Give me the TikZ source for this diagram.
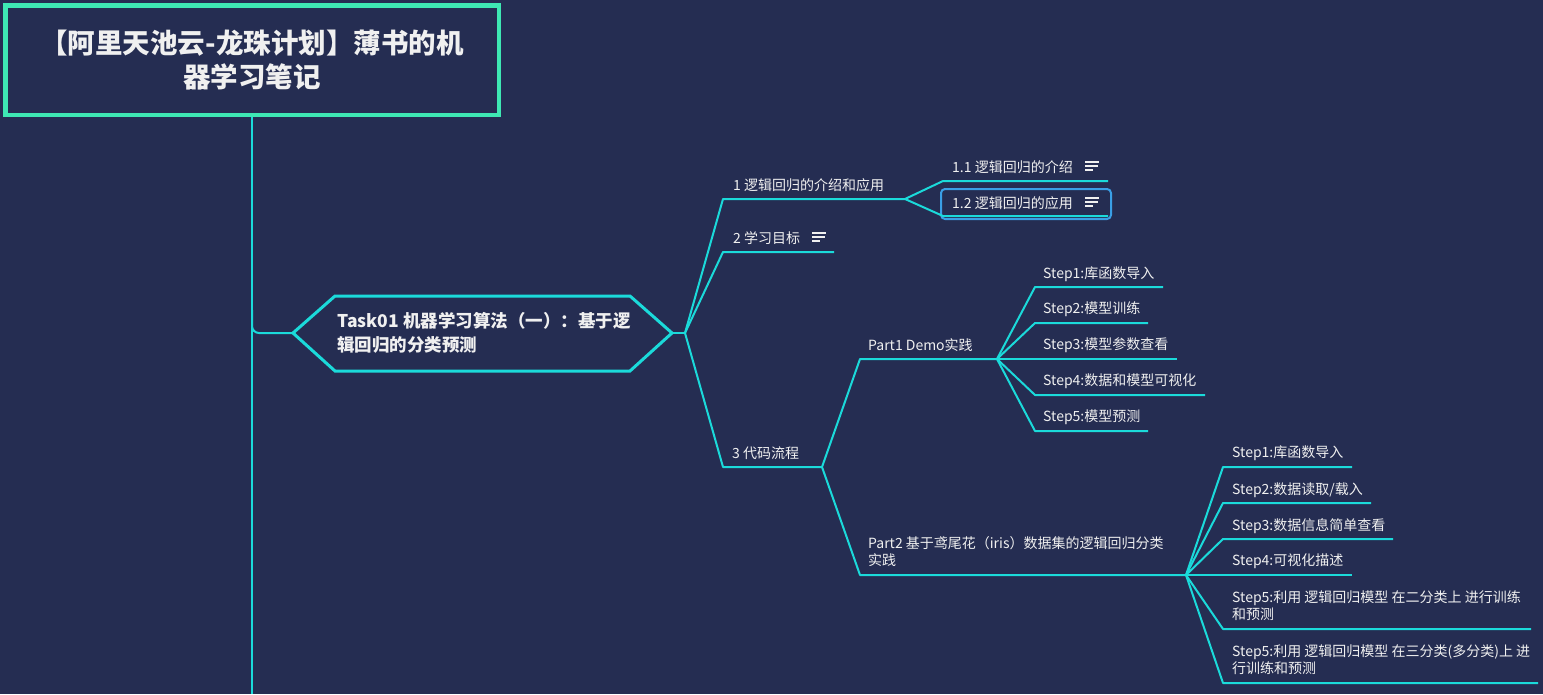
\documentclass[tikz,border=0pt]{standalone}
\usepackage{fontspec}
\setmainfont{Noto Sans CJK SC}
\definecolor{bg}{HTML}{252D52}
\definecolor{cy}{HTML}{1BDADA}
\definecolor{tb}{HTML}{3EE8B4}
\definecolor{sel}{HTML}{3A9FE6}
\definecolor{tx}{HTML}{F0F0F0}
\begin{document}
\begin{tikzpicture}[x=1pt,y=-1pt,
  link/.style={cy,line width=2pt,line join=round},
  lbl/.style={anchor=west,inner sep=0pt,text=tx,font=\fontsize{14}{17}\selectfont,align=left},
  notes/.style={tx,line width=1.3pt}]
\fill[bg] (0,0) rectangle (1543,694);
\useasboundingbox (0,0) rectangle (1543,694);

% root
\node[draw=tb,line width=4.5pt,minimum width=493.5pt,minimum height=109.5pt,inner sep=0pt,
  text=tx,font=\fontsize{27.5}{34}\selectfont\bfseries,align=center] (root) at (252,60)
  {【阿里天池云-龙珠计划】薄书的机\\器学习笔记};
\coordinate (bottom) at (252,694);
\draw[link] (root.south) -- (bottom);

% hexagon
\coordinate (hL) at (293,333);
\coordinate (hR) at (672,333);
\draw[cy,line width=3pt,line join=miter] (hL) -- (335,296) -- (630,296) -- (hR) -- (630,371) -- (335,371) -- cycle;
\node[anchor=west,inner sep=0pt,text=tx,font=\fontsize{17.5}{24}\selectfont\bfseries,align=left] (task) at (337,333)
  {Task01 机器学习算法（一）：基于逻\\辑回归的分类预测};
\draw[link,rounded corners=7pt] (252,310) -- (252,333) -- (hL);

% level 1
\coordinate (j0) at (685,333);
\draw[link] (hR) -- (j0);
\coordinate (j1) at (905,199);
\coordinate (e2) at (834,252);
\coordinate (j3) at (822,467);
\draw[link] (j0) -- (723,199) -- (j1);
\draw[link] (j0) -- (723,252) -- (e2);
\draw[link] (j0) -- (723,467) -- (j3);
\node[lbl] (n1) at (733,185) {1 逻辑回归的介绍和应用};
\node[lbl] (n2) at (733,238) {2 学习目标};
\node[lbl] (n3) at (732,453) {3 代码流程};
\draw[notes] (812,233) -- (826,233) (812,237) -- (825,237) (812,241) -- (820,241);

% node 1 children
\draw[sel,line width=2pt,rounded corners=4pt] (941,189) rectangle (1111,219);
\coordinate (e11) at (1108,181);
\coordinate (e12) at (1108,216);
\draw[link] (j1) -- (943,181) -- (e11);
\draw[link] (j1) -- (943,216) -- (e12);
\node[lbl] (n11) at (952,167) {1.1 逻辑回归的介绍};
\node[lbl] (n12) at (952,203) {1.2 逻辑回归的应用};
\draw[notes] (1085,162) -- (1099,162) (1085,166) -- (1098,166) (1085,170) -- (1093,170);
\draw[notes] (1085,198) -- (1099,198) (1085,202) -- (1098,202) (1085,206) -- (1093,206);

% node 3 children
\coordinate (j4) at (997,359);
\coordinate (j5) at (1186,575);
\draw[link] (j3) -- (860,359) -- (j4);
\draw[link] (j3) -- (860,575) -- (j5);
\node[lbl] (p1) at (868,345) {Part1 Demo实践};
\node[lbl] (p2) at (868,552) {Part2 基于鸢尾花（iris）数据集的逻辑回归分类\\实践};

% Part1 steps
\coordinate (a1) at (1163,287);
\coordinate (a2) at (1148,323);
\coordinate (a3) at (1177,359);
\coordinate (a4) at (1205,395);
\coordinate (a5) at (1148,431);
\draw[link] (j4) -- (1035,287) -- (a1);
\draw[link] (j4) -- (1035,323) -- (a2);
\draw[link] (j4) -- (a3);
\draw[link] (j4) -- (1035,395) -- (a4);
\draw[link] (j4) -- (1035,431) -- (a5);
\node[lbl] (s11) at (1043,274) {Step1:库函数导入};
\node[lbl] (s12) at (1043,309) {Step2:模型训练};
\node[lbl] (s13) at (1043,345) {Step3:模型参数查看};
\node[lbl] (s14) at (1043,381) {Step4:数据和模型可视化};
\node[lbl] (s15) at (1043,417) {Step5:模型预测};

% Part2 steps
\coordinate (b1) at (1352,467);
\coordinate (b2) at (1371,503);
\coordinate (b3) at (1393,539);
\coordinate (b4) at (1352,575);
\coordinate (b5) at (1531,629);
\coordinate (b6) at (1538,683);
\draw[link] (j5) -- (1223,467) -- (b1);
\draw[link] (j5) -- (1223,503) -- (b2);
\draw[link] (j5) -- (1223,539) -- (b3);
\draw[link] (j5) -- (1223,575) -- (b4);
\draw[link] (j5) -- (1223,629) -- (b5);
\draw[link] (j5) -- (1223,683) -- (b6);
\node[lbl] (s21) at (1232,453) {Step1:库函数导入};
\node[lbl] (s22) at (1232,490) {Step2:数据读取/载入};
\node[lbl] (s23) at (1232,526) {Step3:数据信息简单查看};
\node[lbl] (s24) at (1232,561) {Step4:可视化描述};
\node[lbl] (s25) at (1232,605.5) {Step5:利用 逻辑回归模型 在二分类上 进行训练\\和预测};
\node[lbl] (s26) at (1232,660) {Step5:利用 逻辑回归模型 在三分类(多分类)上 进\\行训练和预测};
\end{tikzpicture}
\end{document}
